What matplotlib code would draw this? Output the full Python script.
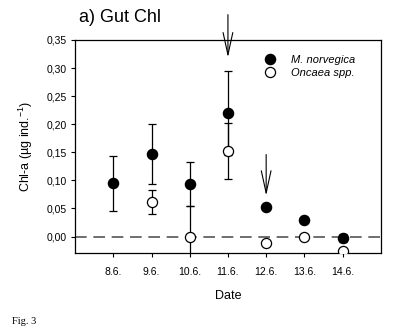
import numpy as np
import matplotlib
matplotlib.use('Agg')
import matplotlib.pyplot as plt
from matplotlib.lines import Line2D

plt.rcParams['font.family'] = ['Liberation Sans', 'DejaVu Sans']
plt.rcParams['mathtext.fontset'] = 'custom'
plt.rcParams['mathtext.rm'] = 'Liberation Sans'

# Data
dates = ['8.6.', '9.6.', '10.6.', '11.6.', '12.6.', '13.6.', '14.6.']
mnorv = [0.095, 0.147, 0.094, 0.220, 0.053, 0.030, -0.002]
mnorv_err = [0.049, 0.053, 0.039, 0.074, 0.0, 0.0, 0.007]
oncaea = [np.nan, 0.062, 0.000, 0.153, -0.011, 0.000, -0.025]
oncaea_err = [0.0, 0.021, 0.054, 0.050, 0.0, 0.004, 0.0]

# arrows: (date index, start value, tip value)
arrows = [(3, 0.40, 0.314), (4, 0.151, 0.068)]

x = np.arange(len(dates))

fig = plt.figure(figsize=(3.93, 3.33), dpi=100)
ax = fig.add_axes([0.191, 0.239, 0.778, 0.641])

ax.axhline(0, color='#555555', linestyle=(0, (7, 4)), linewidth=1.2, zorder=1)

ax.errorbar(x, mnorv, yerr=mnorv_err, fmt='o', color='black', mfc='black', mec='black',
            ms=7.3, ecolor='black', elinewidth=0.9, capsize=3, capthick=0.9, zorder=3)
ax.errorbar(x, oncaea, yerr=oncaea_err, fmt='o', color='black', mfc='white', mec='black',
            ms=7.3, mew=0.9, ecolor='black', elinewidth=0.9, capsize=3, capthick=0.9, zorder=4)

for i, y0, y1 in arrows:
    ax.annotate('', xy=(i, y1), xytext=(i, y0), annotation_clip=False,
                arrowprops=dict(arrowstyle='->,head_length=1.6,head_width=0.35',
                                color='black', lw=0.8))

ax.set_xlim(-1, 7)
ax.set_ylim(-0.03, 0.35)
ax.set_xticks(x)
ax.set_xticklabels(dates, fontsize=7.5)
ticks = np.arange(0, 0.351, 0.05)
ax.set_yticks(ticks)
ax.set_yticklabels([f'{v:.2f}'.replace('.', ',') for v in ticks], fontsize=7.5)
ax.tick_params(axis='x', direction='out', length=3, width=0.8, pad=7)
ax.tick_params(axis='y', direction='out', length=3, width=0.8, pad=3)
for s in ax.spines.values():
    s.set_linewidth(0.9)

ax.set_xlabel('Date', fontsize=9, labelpad=9)
ax.set_ylabel('Chl-a (µg ind.$^{-1}$)', fontsize=9, labelpad=8)

handles = [Line2D([], [], marker='o', ls='', mfc='black', mec='black', ms=7.3),
           Line2D([], [], marker='o', ls='', mfc='white', mec='black', ms=7.3, mew=0.9)]
leg = ax.legend(handles, ['M. norvegica', 'Oncaea spp.'], loc='upper left', frameon=False,
                fontsize=8, handletextpad=1.3, handlelength=1.2, labelspacing=0.25,
                borderaxespad=0, bbox_to_anchor=(0.6, 0.95))
for t in leg.get_texts():
    t.set_style('italic')

fig.text(0.2, 0.948, 'a) Gut Chl', fontsize=13, ha='left', va='center')
fig.text(0.03, 0.034, 'Fig. 3', fontsize=7.5, family='Liberation Serif', ha='left', va='center')

fig.savefig('out.png', dpi=100)
